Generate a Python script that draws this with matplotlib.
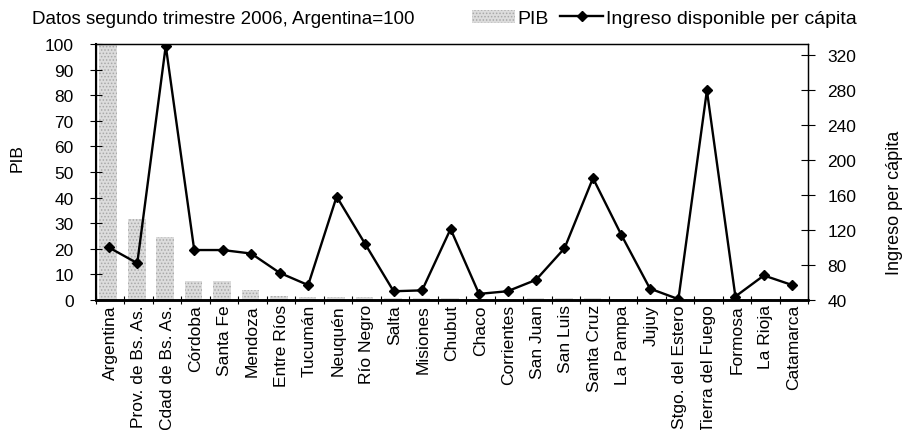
import numpy as np
import matplotlib
matplotlib.use("Agg")
import matplotlib.pyplot as plt
from matplotlib.patches import Patch
from matplotlib.lines import Line2D

plt.rcParams['font.family'] = ['Liberation Sans', 'DejaVu Sans']
plt.rcParams['hatch.linewidth'] = 0.7

# Datos
provincias = ['Argentina', 'Prov. de Bs. As.', 'Cdad de Bs. As.', 'Córdoba', 'Santa Fe',
              'Mendoza', 'Entre Ríos', 'Tucumán', 'Neuquén', 'Río Negro', 'Salta',
              'Misiones', 'Chubut', 'Chaco', 'Corrientes', 'San Juan', 'San Luis',
              'Santa Cruz', 'La Pampa', 'Jujuy', 'Stgo. del Estero', 'Tierra del Fuego',
              'Formosa', 'La Rioja', 'Catamarca']
pib = [100, 31.5, 24.7, 7.6, 7.6, 4.0, 1.4, 1.3, 1.3, 1.2, 0.6, 0.7, 0.6, 0.5, 0.5,
       0.6, 0.6, 0.6, 0.4, 0.4, 0.4, 0.3, 0.2, 0.2, 0.2]
ingreso = [100, 82, 330, 97, 97, 93, 71, 57, 158, 104, 50, 51, 121, 47, 50,
           63, 99, 179, 114, 53, 41, 279, 44, 68, 57]

x = np.arange(len(provincias))

fig = plt.figure(figsize=(9.02, 4.31), dpi=100)
ax = fig.add_axes([0.1064, 0.3016, 0.7894, 0.594])
ax2 = ax.twinx()

# Barras PIB
ax.bar(x - 0.07, pib, width=0.62, color='#dcdcdc', edgecolor='#a8a8a8',
       hatch='.....', linewidth=0, zorder=1)

# Linea ingreso
ax2.plot(x - 0.05, ingreso, color='black', lw=1.7, marker='D', ms=5.5, zorder=3)

ax.set_xlim(-0.5, len(provincias) - 0.5)
ax.set_ylim(0, 100)
ax2.set_ylim(40, 332)
ax.set_yticks(np.arange(0, 101, 10))
ax2.set_yticks(np.arange(40, 321, 40))

ax.set_xticks(x)
ax.set_xticklabels(provincias, rotation=90, fontsize=12.5)
ax.set_xticks(np.arange(len(provincias) + 1) - 0.5, minor=True)
ax.tick_params(axis='x', which='major', length=0, pad=3)
ax.tick_params(axis='x', which='minor', direction='inout', length=6, width=0.8)
ax.tick_params(axis='y', direction='inout', length=8, width=0.8, labelsize=12.5, pad=12)
ax2.tick_params(axis='y', direction='inout', length=10, width=0.8, labelsize=12.5, pad=9)

for a in (ax, ax2):
    for s in a.spines.values():
        s.set_linewidth(0.9)
ax.spines['bottom'].set_linewidth(1.8)
ax2.spines['bottom'].set_linewidth(1.8)
ax2.spines['left'].set_linewidth(1.5)

ax.set_ylabel('PIB', fontsize=12.5)
ax.yaxis.set_label_coords(-0.0997, 0.56)
ax2.set_ylabel('Ingreso per cápita', fontsize=13)
ax2.yaxis.set_label_coords(1.1096, 0.383)

fig.text(0.036, 0.955, 'Datos segundo trimestre 2006, Argentina=100', fontsize=13.5,
         va='center', ha='left')

handles = [Patch(facecolor='#dcdcdc', edgecolor='#a8a8a8', hatch='.....', linewidth=0),
           Line2D([0], [0], color='black', lw=1.7, marker='D', ms=5.5)]
fig.legend(handles, ['PIB', 'Ingreso disponible per cápita'], loc='center left',
           bbox_to_anchor=(0.523, 0.955), ncol=2, frameon=False, fontsize=14,
           handlelength=2.2, handletextpad=0.15, columnspacing=0.6,
           borderaxespad=0, borderpad=0)

fig.savefig('out.png', dpi=100)
